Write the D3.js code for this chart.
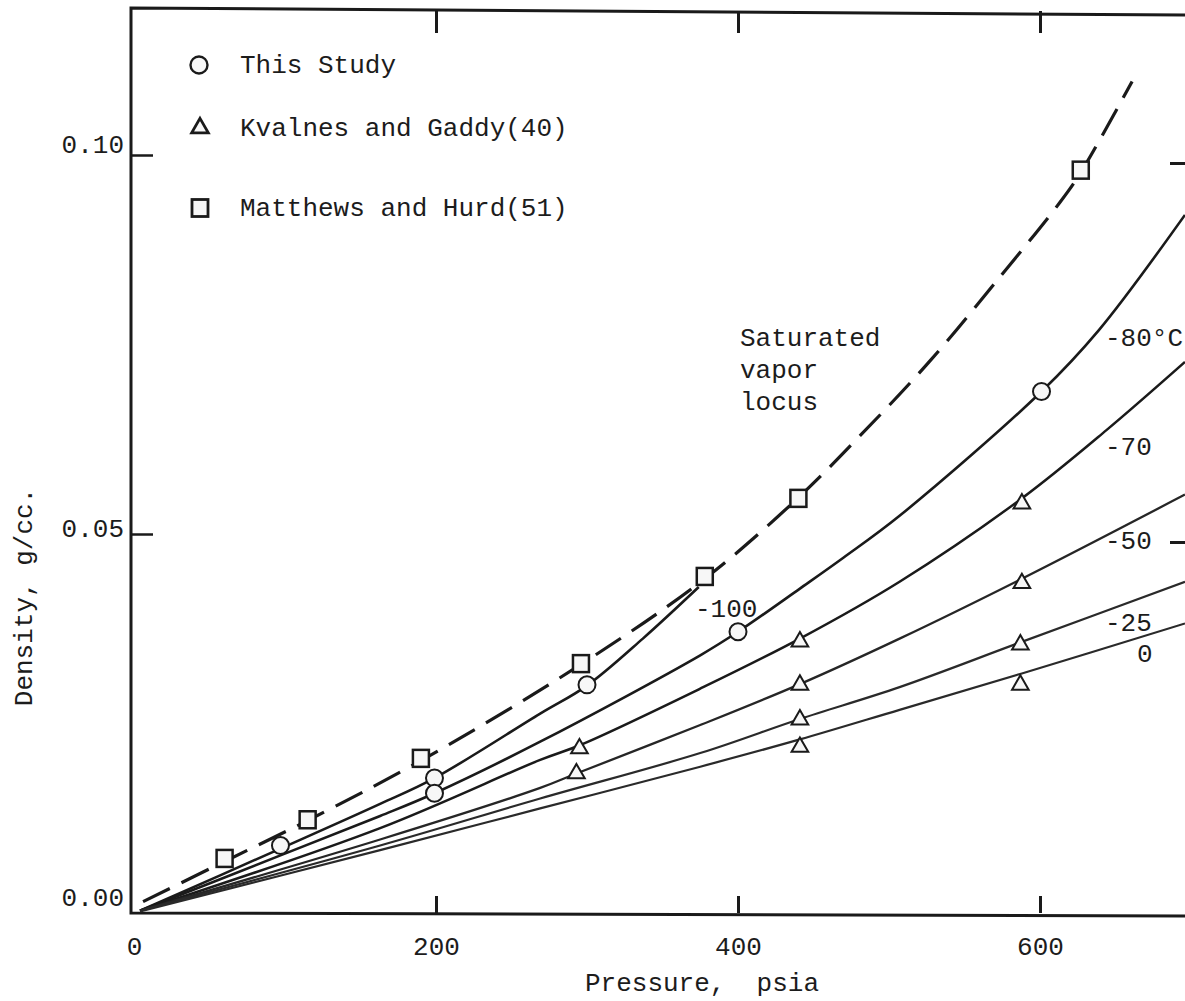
<!DOCTYPE html>
<html>
<head>
<meta charset="utf-8">
<script src="https://cdn.jsdelivr.net/npm/d3@7"></script>
<style>
  body { margin: 0; background: #fff; }
  svg { display: block; }
  text { font-family: "Liberation Mono", "Courier New", monospace; fill: #1c1c1c; }
</style>
</head>
<body>
<svg id="chart" width="1185" height="1001"></svg>
<script>
// ---- axis ticks ----
const xTickValues = [0, 200, 400, 600];
const yTickValues = [0.00, 0.05, 0.10];

// ---- drawn curves: [pressure psia, density g/cc] ----
const satVaporLocus = [[6,0.0015],[60,0.0068],[115,0.0122],[190,0.0201],[296,0.0328],[378,0.0441],[440,0.0548],[481,0.0630],[527,0.0728],[573,0.0838],[613,0.0937],[627,0.0977],[661,0.1097]];
const isoM100 = [[4,0.0003],[97,0.0085],[163,0.0144],[199,0.0178],[269,0.0263],[300,0.0300],[337,0.0362],[374,0.0430]];
const isoM80  = [[4,0.0003],[97,0.0076],[163,0.0128],[199,0.0158],[269,0.0226],[375,0.0340],[400,0.0371],[441,0.0428],[470,0.0469],[507,0.0524],[601,0.0688],[639,0.0769],[696,0.0921]];
const isoM70  = [[4,0.0003],[163,0.0112],[269,0.0202],[296,0.0222],[375,0.0296],[441,0.0362],[507,0.0437],[588,0.0547],[644,0.0637],[696,0.0727]];
const isoM50  = [[4,0.0003],[163,0.0097],[269,0.0165],[293,0.0184],[375,0.0248],[441,0.0302],[507,0.0362],[588,0.0441],[696,0.0552]];
const isoM25  = [[4,0.0003],[163,0.0089],[269,0.0151],[375,0.0211],[441,0.0256],[507,0.0298],[587,0.0357],[696,0.0437]];
const iso0    = [[4,0.0002],[163,0.0083],[269,0.0138],[375,0.0193],[441,0.0229],[507,0.0268],[588,0.0316],[696,0.0382]];

// ---- measured points ----
const thisStudy     = [[97,0.0089],[199,0.0178],[199,0.0158],[300,0.0301],[400,0.0371],[601,0.0688]];
const kvalnesGaddy  = [[295,0.0217],[293,0.0184],[441,0.0358],[441,0.0301],[441,0.0255],[441,0.0219],[588,0.0540],[588,0.0435],[587,0.0354],[587,0.0301]];
const matthewsHurd  = [[60,0.0072],[115,0.0123],[190,0.0204],[296,0.0329],[378,0.0444],[440,0.0547],[627,0.0980]];

// ---- curve labels ----
const isoLabels = [
  { text: "-80°C", x: 1105, y: 346 },
  { text: "-70",   x: 1105, y: 455 },
  { text: "-50",   x: 1105, y: 549 },
  { text: "-25",   x: 1105, y: 631 },
  { text: "0",     x: 1137, y: 662 },
  { text: "-100",  x: 695,  y: 617 }
];
const locusLabel = ["Saturated", "vapor", "locus"];
const legendItems = ["This Study", "Kvalnes and Gaddy(40)", "Matthews and Hurd(51)"];

const W = 1185, H = 1001;
const padL = 131, padB = 913, padR = 1185, padT = 8;
const ink = "#1a1a1a";
const fs = 26;

const x = d3.scaleLinear().domain([0, 600]).range([134, 1040]);
const y = d3.scaleLinear().domain([0, 0.10]).range([913, 155]);

const svg = d3.select("#chart");
svg.append("rect").attr("width", W).attr("height", H).attr("fill", "#fff");

svg.append("defs").append("clipPath").attr("id", "plotclip")
  .append("rect").attr("x", padL).attr("y", padT).attr("width", padR - padL).attr("height", padB - padT);

// frame (the sheet is very slightly skewed)
svg.append("path")
  .attr("d", `M${padR},${padT + 7} L${padL},${padT} L${padL},${padB} L${padR},${padB + 3}`)
  .attr("fill", "none").attr("stroke", ink).attr("stroke-width", 3);

// bottom axis: ticks point up into the plot
const xAxis = svg.append("g").attr("transform", `translate(0,${padB})`)
  .call(d3.axisBottom(x).tickValues(xTickValues).tickFormat(d3.format("d"))
    .tickSizeInner(-17).tickSizeOuter(0).tickPadding(24));
xAxis.select(".domain").remove();
xAxis.selectAll(".tick line").attr("stroke", ink).attr("stroke-width", 3).filter(d => d === 0).remove();
xAxis.selectAll(".tick text").attr("font-size", fs).attr("fill", "#1c1c1c")
  .attr("font-family", '"Liberation Mono", monospace');

// top ticks
const xTop = svg.append("g").attr("transform", `translate(0,${padT + 3})`)
  .call(d3.axisTop(x).tickValues(xTickValues.filter(d => d > 0)).tickSizeInner(-22).tickSizeOuter(0).tickFormat(""));
xTop.select(".domain").remove();
xTop.selectAll(".tick line").attr("stroke", ink).attr("stroke-width", 3);

// left axis: ticks point right into the plot, labels sit a little above their ticks
const yLabelLift = d => (d === 0 ? -16 : d === 0.05 ? -6 : -11);
const yAxis = svg.append("g").attr("transform", `translate(${padL},0)`)
  .call(d3.axisLeft(y).tickValues(yTickValues).tickFormat(d3.format(".2f"))
    .tickSizeInner(-22).tickSizeOuter(0).tickPadding(7));
yAxis.select(".domain").remove();
yAxis.selectAll(".tick line").attr("stroke", ink).attr("stroke-width", 2.5).filter(d => d === 0).remove();
yAxis.selectAll(".tick text").attr("font-size", fs).attr("fill", "#1c1c1c")
  .attr("font-family", '"Liberation Mono", monospace')
  .attr("y", d => yLabelLift(d));

// right edge ticks
const yRight = svg.append("g").attr("transform", `translate(${padR},8)`)
  .call(d3.axisRight(y).tickValues([0.05, 0.10]).tickSizeInner(-15).tickSizeOuter(0).tickFormat(""));
yRight.select(".domain").remove();
yRight.selectAll(".tick line").attr("stroke", ink).attr("stroke-width", 3);

// axis titles
svg.append("text").attr("x", 702).attr("y", 991).attr("text-anchor", "middle")
  .attr("font-size", fs).attr("xml:space", "preserve").text("Pressure,  psia");
svg.append("text").attr("transform", "translate(32,597) rotate(-90)").attr("text-anchor", "middle")
  .attr("font-size", fs).attr("xml:space", "preserve").text("Density, g/cc.");

// curves
const line = d3.line().x(d => x(d[0])).y(d => y(d[1])).curve(d3.curveCatmullRom.alpha(0.5));
const plot = svg.append("g").attr("clip-path", "url(#plotclip)");

plot.append("path").datum(satVaporLocus).attr("d", line)
  .attr("fill", "none").attr("stroke", ink).attr("stroke-width", 3.2)
  .attr("stroke-dasharray", "30,13").attr("stroke-linecap", "butt");

const isotherms = [
  { data: isoM100, w: 2.6, c: ink },
  { data: isoM80,  w: 2.6, c: ink },
  { data: isoM70,  w: 2.5, c: ink },
  { data: isoM50,  w: 2.3, c: "#262626" },
  { data: isoM25,  w: 2.2, c: "#2a2a2a" },
  { data: iso0,    w: 2.2, c: "#2a2a2a" }
];
isotherms.forEach(c => {
  plot.append("path").datum(c.data).attr("d", line)
    .attr("fill", "none").attr("stroke", c.c).attr("stroke-width", c.w);
});

// markers
const mk = plot.append("g").attr("stroke", ink).attr("stroke-width", 2).attr("fill", "#f7f7f7");
mk.selectAll("circle.ts").data(thisStudy).join("circle")
  .attr("cx", d => x(d[0])).attr("cy", d => y(d[1])).attr("r", 8.5);
const tri = d3.symbol(d3.symbolTriangle, 120);
mk.selectAll("path.kg").data(kvalnesGaddy).join("path")
  .attr("d", tri).attr("transform", d => `translate(${x(d[0])},${y(d[1])})`);
mk.selectAll("rect.mh").data(matthewsHurd).join("rect")
  .attr("x", d => x(d[0]) - 8).attr("y", d => y(d[1]) - 8.5).attr("width", 16).attr("height", 17)
  .attr("stroke-width", 2.5);

// curve labels
svg.selectAll("text.iso").data(isoLabels).join("text")
  .attr("x", d => d.x).attr("y", d => d.y).attr("font-size", fs).text(d => d.text);
svg.selectAll("text.locus").data(locusLabel).join("text")
  .attr("x", 740).attr("y", (d, i) => 346 + i * 32).attr("font-size", fs).text(d => d);

// legend
const legY = [65, 128, 208];
const leg = svg.append("g");
leg.append("circle").attr("cx", 199).attr("cy", legY[0]).attr("r", 8.5)
  .attr("fill", "#f7f7f7").attr("stroke", ink).attr("stroke-width", 2.4);
leg.append("path").attr("d", tri).attr("transform", `translate(200,${legY[1]})`)
  .attr("fill", "#f7f7f7").attr("stroke", ink).attr("stroke-width", 2.8);
leg.append("rect").attr("x", 192).attr("y", legY[2] - 8.5).attr("width", 16).attr("height", 17)
  .attr("fill", "#f7f7f7").attr("stroke", ink).attr("stroke-width", 2.8);
leg.selectAll("text").data(legendItems).join("text")
  .attr("x", 240).attr("y", (d, i) => legY[i] + 8).attr("font-size", fs).text(d => d);
</script>
</body>
</html>
